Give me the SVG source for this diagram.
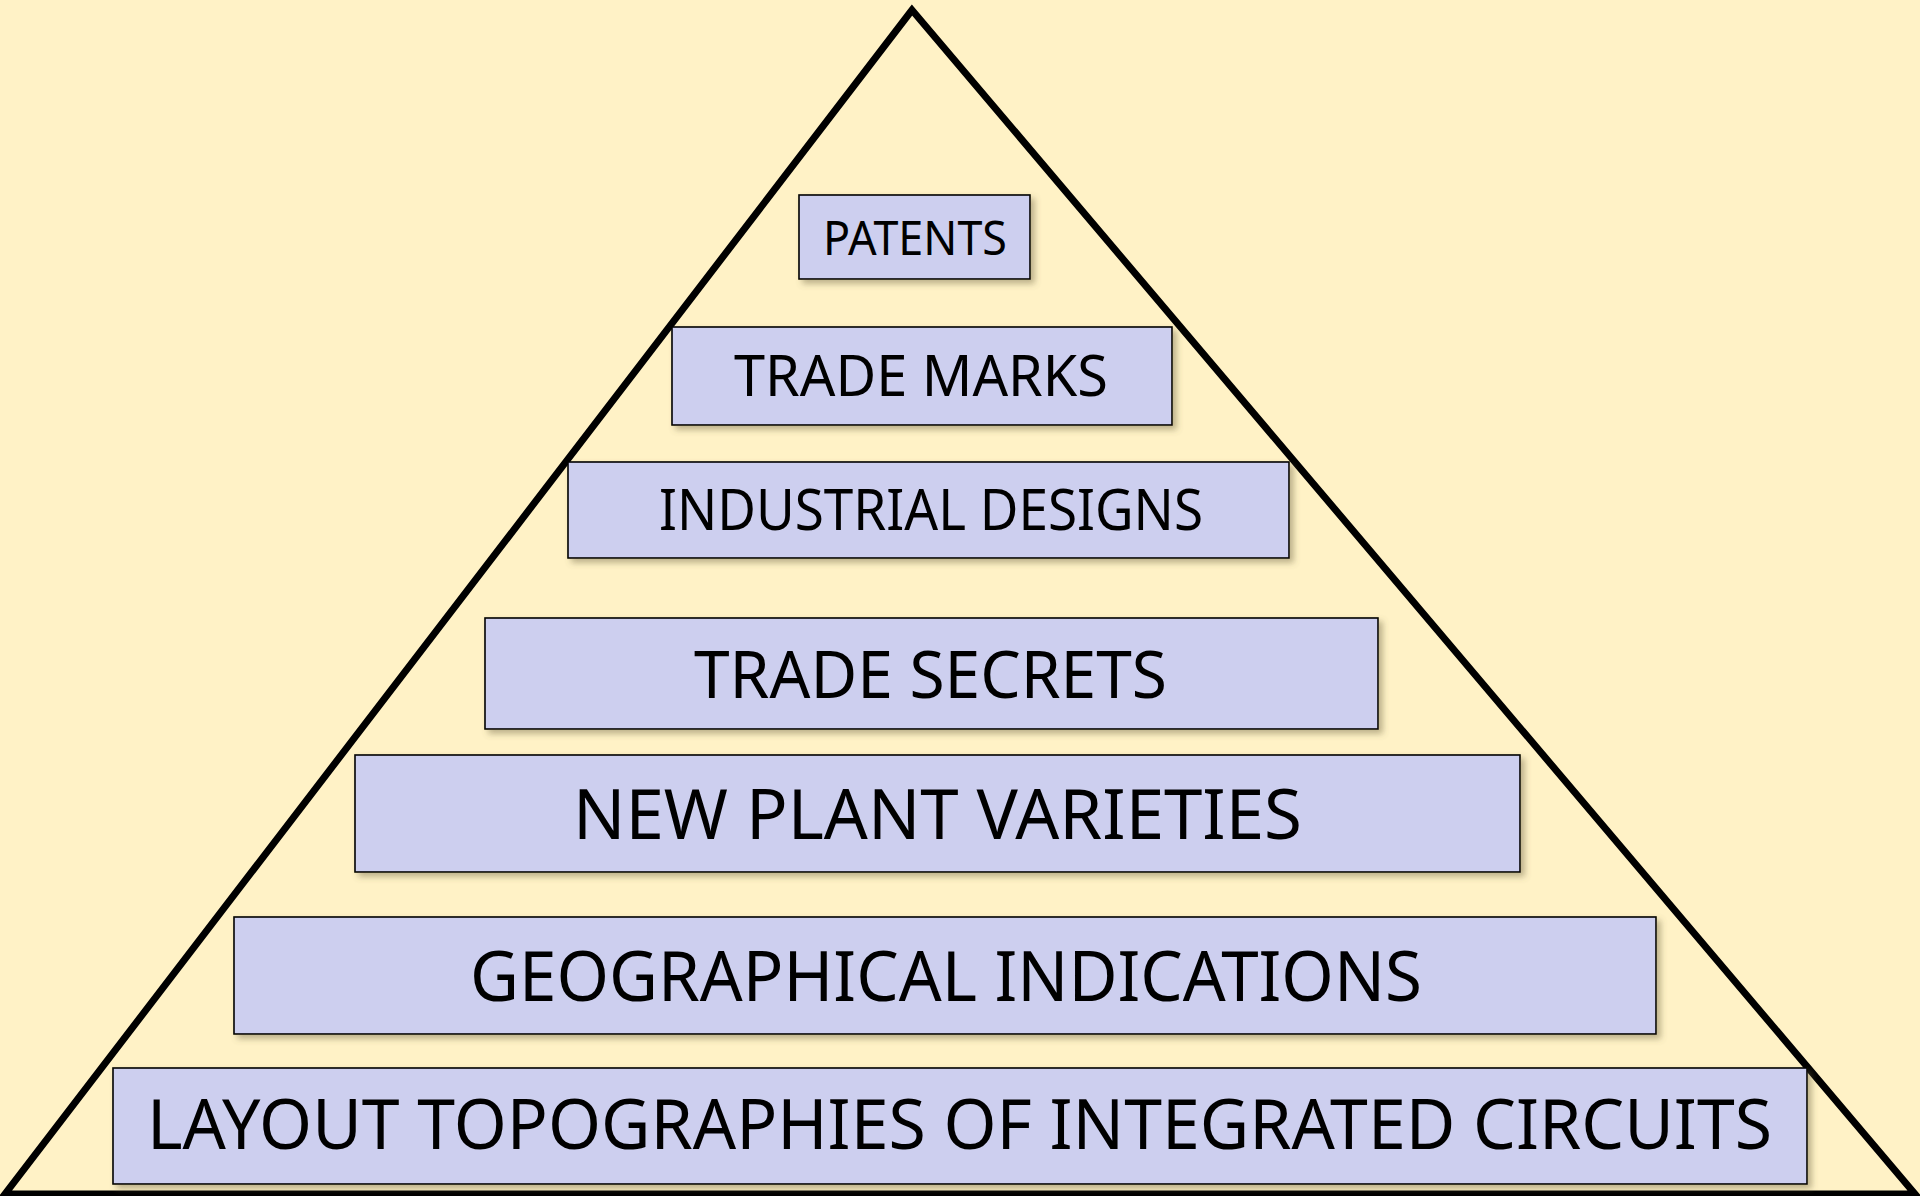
<svg xmlns="http://www.w3.org/2000/svg" width="1920" height="1196" viewBox="0 0 1920 1196">
  <defs>
    <filter id="shadow" x="-5%" y="-20%" width="115%" height="150%">
      <feDropShadow dx="4" dy="4" stdDeviation="3" flood-color="#6b6440" flood-opacity="0.45"/>
    </filter>
  </defs>
  <style>
    .box { fill: #CDCFEF; stroke: #000000; stroke-width: 1.6; filter: url(#shadow); }
    .lbl { font-family: "Noto Sans", "Open Sans", sans-serif; fill: #000000; text-anchor: middle; }
  </style>
  <rect x="0" y="0" width="1920" height="1196" fill="#FFF2C6"/>
  <g id="pyramid">
    <polygon points="912,10 5,1194 1915,1194" fill="none" stroke="#000000" stroke-width="7" stroke-linejoin="miter"/>
  </g>
  <g id="connectors"></g>
  <g id="patents">
    <rect class="box" x="799" y="195" width="231" height="84"/>
    <text class="lbl" x="915" y="255" font-size="48" textLength="184" lengthAdjust="spacingAndGlyphs">PATENTS</text>
  </g>
  <g id="trade-marks">
    <rect class="box" x="672" y="327" width="500" height="98"/>
    <text class="lbl" x="921" y="396" font-size="56" textLength="374" lengthAdjust="spacingAndGlyphs">TRADE MARKS</text>
  </g>
  <g id="industrial-designs">
    <rect class="box" x="568" y="462" width="721" height="96"/>
    <text class="lbl" x="931" y="530" font-size="56" textLength="544" lengthAdjust="spacingAndGlyphs">INDUSTRIAL DESIGNS</text>
  </g>
  <g id="trade-secrets">
    <rect class="box" x="485" y="618" width="893" height="111"/>
    <text class="lbl" x="930.5" y="698" font-size="66" textLength="473" lengthAdjust="spacingAndGlyphs">TRADE SECRETS</text>
  </g>
  <g id="new-plant-varieties">
    <rect class="box" x="355" y="755" width="1165" height="117"/>
    <text class="lbl" x="937.5" y="839" font-size="69" textLength="729" lengthAdjust="spacingAndGlyphs">NEW PLANT VARIETIES</text>
  </g>
  <g id="geographical-indications">
    <rect class="box" x="234" y="917" width="1422" height="117"/>
    <text class="lbl" x="946" y="1001" font-size="70" textLength="952" lengthAdjust="spacingAndGlyphs">GEOGRAPHICAL INDICATIONS</text>
  </g>
  <g id="layout-topographies">
    <rect class="box" x="113" y="1068" width="1694" height="116"/>
    <text class="lbl" x="959.5" y="1149" font-size="70" textLength="1625" lengthAdjust="spacingAndGlyphs">LAYOUT TOPOGRAPHIES OF INTEGRATED CIRCUITS</text>
  </g>
</svg>
